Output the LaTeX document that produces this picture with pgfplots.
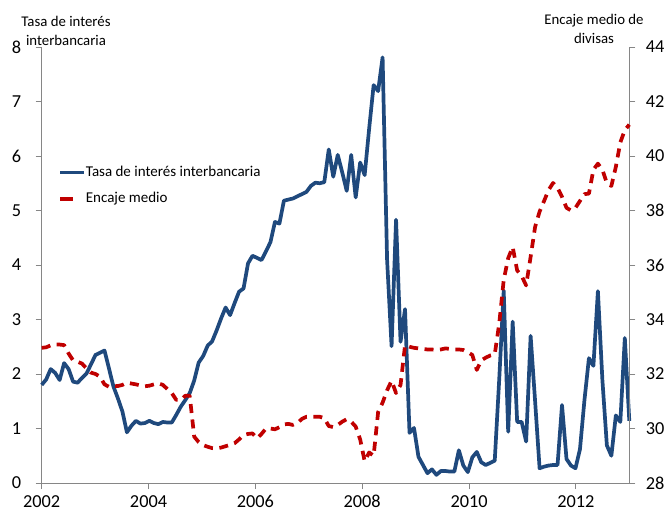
\documentclass[border=0pt]{standalone}
\usepackage{fontspec}
\setmainfont{Carlito}
\usepackage{pgfplots}
\usepackage{pgfplotstable}
\pgfplotsset{compat=1.18}
\definecolor{tasablue}{RGB}{31,73,125}
\definecolor{encred}{RGB}{192,0,0}
\definecolor{axgray}{RGB}{134,134,134}

\pgfplotstableread{
i tasa enc
0 1.80 32.96
1 1.90 32.98
2 2.09 33.05
3 2.02 33.08
4 1.89 33.08
5 2.20 33.06
6 2.09 32.75
7 1.86 32.50
8 1.84 32.45
9 1.93 32.38
10 2.01 32.20
11 2.18 32.05
12 2.35 32.00
13 2.39 31.90
14 2.43 31.62
15 2.10 31.53
16 1.77 31.55
17 1.55 31.56
18 1.31 31.60
19 0.93 31.68
20 1.05 31.65
21 1.14 31.62
22 1.09 31.58
23 1.10 31.55
24 1.14 31.57
25 1.10 31.62
26 1.08 31.66
27 1.12 31.60
28 1.11 31.45
29 1.11 31.30
30 1.25 31.05
31 1.40 31.05
32 1.52 31.20
33 1.65 31.20
34 1.88 29.70
35 2.21 29.50
36 2.33 29.39
37 2.52 29.33
38 2.60 29.28
39 2.80 29.27
40 3.02 29.30
41 3.22 29.35
42 3.08 29.40
43 3.30 29.46
44 3.51 29.60
45 3.57 29.76
46 4.03 29.80
47 4.17 29.82
48 4.13 29.64
49 4.09 29.80
50 4.25 30.00
51 4.42 30.00
52 4.79 29.97
53 4.76 30.05
54 5.18 30.15
55 5.20 30.17
56 5.22 30.13
57 5.26 30.20
58 5.30 30.35
59 5.34 30.43
60 5.45 30.43
61 5.51 30.43
62 5.50 30.43
63 5.52 30.38
64 6.12 30.09
65 5.62 30.05
66 6.02 30.13
67 5.70 30.25
68 5.36 30.34
69 6.02 30.25
70 5.24 30.07
71 5.88 29.60
72 5.65 28.80
73 6.50 29.12
74 7.30 29.00
75 7.19 30.60
76 7.81 30.95
77 4.10 31.40
78 2.51 31.75
79 4.83 31.30
80 2.59 31.60
81 3.19 33.05
82 0.92 33.00
83 1.01 32.96
84 0.48 32.94
85 0.33 32.92
86 0.18 32.90
87 0.25 32.90
88 0.15 32.88
89 0.22 32.90
90 0.22 32.94
91 0.21 32.92
92 0.21 32.90
93 0.60 32.90
94 0.32 32.88
95 0.20 32.80
96 0.47 32.70
97 0.57 32.15
98 0.38 32.50
99 0.33 32.60
100 0.37 32.68
101 0.41 32.72
102 1.90 33.85
103 3.53 35.45
104 0.94 36.25
105 2.96 36.66
106 1.12 35.80
107 1.12 35.60
108 0.76 35.25
109 2.70 36.30
110 1.50 37.40
111 0.27 37.96
112 0.30 38.35
113 0.32 38.75
114 0.33 39.01
115 0.33 38.83
116 1.43 38.50
117 0.44 38.10
118 0.32 38.00
119 0.27 38.10
120 0.62 38.35
121 1.52 38.60
122 2.29 38.62
123 2.15 39.50
124 3.52 39.72
125 1.89 39.50
126 0.69 39.00
127 0.50 38.90
128 1.24 39.60
129 1.12 40.50
130 2.66 40.95
131 1.14 41.15
}\datatab

\pgfplotsset{
  common/.style={
    scale only axis, width=587.6bp, height=436bp,
    at={(0,0)}, anchor=south west,
    xmin=0, xmax=131,
    axis line style={axgray, line width=0.9bp},
    tick style={axgray, line width=0.9bp},
    major tick length=6bp, tick align=outside,
    tick label style={font=\fontsize{18.3bp}{20bp}\selectfont, text=black},
    /pgf/number format/assume math mode=true,
    clip=false,
  }
}

\begin{document}
\begin{tikzpicture}
\useasboundingbox (-41.7bp,-31bp) rectangle (629.3bp,483bp);
\begin{axis}[common,
  ymin=0, ymax=8, ytick={0,1,...,8},
  axis x line*=bottom, axis y line*=left,
  xtick={0,23.818,47.636,71.455,95.273,119.091},
  xticklabels={2002,2004,2006,2008,2010,2012},
  yticklabel style={xshift=-11bp},
  xticklabel style={yshift=-5bp, inner sep=1bp},
  legend style={at={(rel axis cs:0.0277,0.729)}, anchor=north west,
    draw=none, fill=none, inner sep=0pt, row sep=12bp,
    font=\fontsize{15bp}{17bp}\selectfont,
    nodes={inner sep=0pt, text height=11bp, text depth=3.5bp}},
  legend cell align=left,
  legend image code/.code={\draw[#1] (0bp,0bp) -- (24bp,0bp);},
  /tikz/every even column/.style={column sep=3bp},
]
\addplot[tasablue, line width=3.7bp, line join=round]
  table[x=i, y=tasa]{\datatab};
\addlegendentry{Tasa de interés interbancaria}
\addlegendimage{encred, line width=3.7bp, dash pattern=on 13bp off 20bp}
\addlegendentry{Encaje medio}
\node[align=center, font=\fontsize{14.8bp}{19bp}\selectfont, text=black]
  at (rel axis cs:0.0414,1.038) {Tasa de interés\\interbancaria};
\node[align=center, font=\fontsize{14.8bp}{19bp}\selectfont, text=black]
  at (rel axis cs:0.940,1.0424) {Encaje medio de\\divisas};
\end{axis}
\begin{axis}[common,
  ymin=28, ymax=44, ytick={28,30,...,44},
  axis y line*=right, axis x line=none,
  yticklabel style={xshift=7bp},
]
\addplot[encred, line width=3.7bp, dash pattern=on 9bp off 6.5bp, line join=round]
  table[x=i, y=enc]{\datatab};
\end{axis}
\end{tikzpicture}
\end{document}
